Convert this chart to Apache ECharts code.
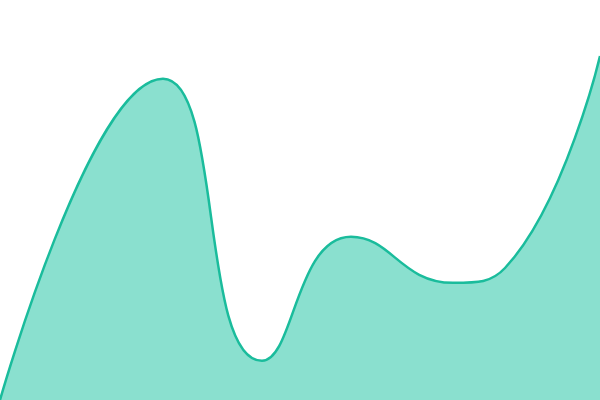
<!DOCTYPE html>
<html>
<head>
<meta charset="utf-8">
<script src="https://cdn.jsdelivr.net/npm/echarts@6/dist/echarts.min.js"></script>
<style>
  html, body { margin: 0; padding: 0; background: #fff; }
  #chart { width: 600px; height: 400px; }
</style>
</head>
<body>
<div id="chart"></div>
<script>
// points (x position, value)
var xValues = [0, 163, 262, 351, 453, 505, 600];
var yValues = [0, 80.3, 9.8, 40.8, 29.3, 33, 86];

var seriesData = xValues.map(function (x, i) { return [x, yValues[i]]; });

var myChart = echarts.init(document.getElementById('chart'));

var option = {
    animation: false,
    grid: { left: 0, right: 0, top: 0, bottom: 0 },
    xAxis: {
        type: 'value',
        min: 0,
        max: 600,
        show: false
    },
    yAxis: {
        type: 'value',
        min: 0,
        max: 100,
        show: false
    },
    series: [
        {
            type: 'line',
            data: seriesData,
            smooth: 0.5,
            symbol: 'none',
            lineStyle: { color: '#1abc9c', width: 2.5 },
            itemStyle: { color: '#1abc9c' },
            areaStyle: { color: '#8ae0cf', opacity: 1 }
        }
    ]
};

myChart.setOption(option);
</script>
</body>
</html>
